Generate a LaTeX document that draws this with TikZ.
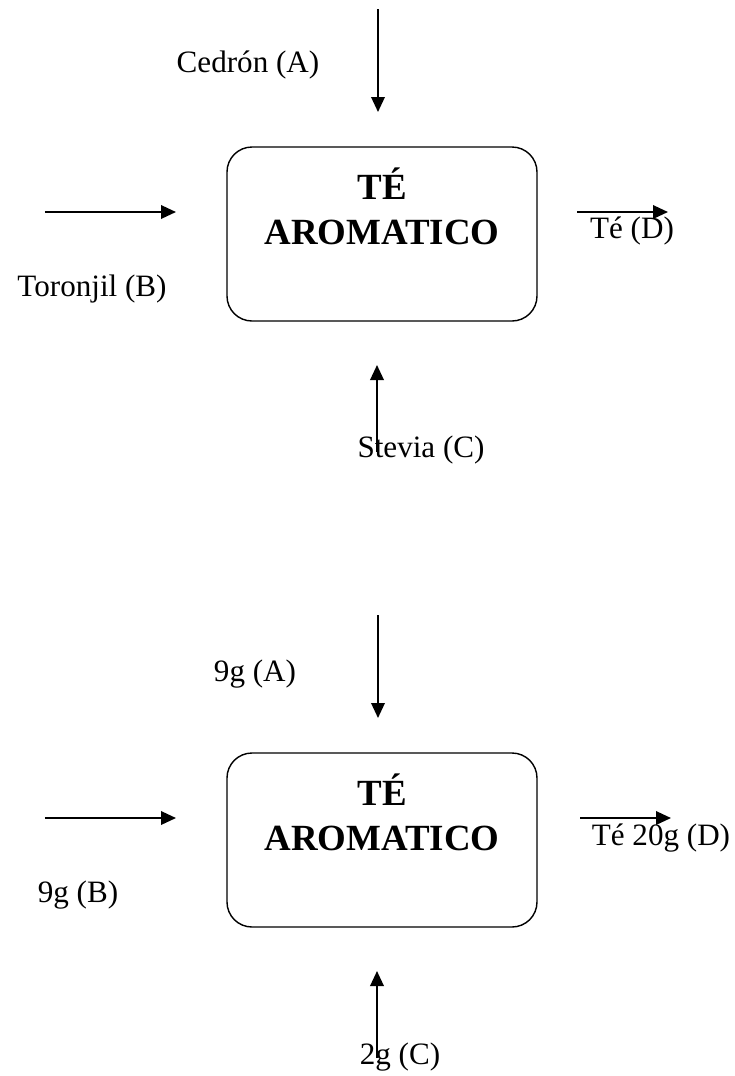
\documentclass[tikz,border=0pt]{standalone}
\usepackage{fontspec}
\setmainfont{Liberation Serif}
\usetikzlibrary{arrows.meta}

\begin{document}
\begin{tikzpicture}[
    flow/.style={-{Triangle[length=0.3cm,width=0.27cm]}, line width=1.1pt},
    proc/.style={draw, line width=0.8pt, rounded corners=0.5cm,
        minimum width=6.2cm, minimum height=3.48cm},
    title/.style={align=center, font=\fontsize{21}{25.6}\selectfont\bfseries},
    lbl/.style={font=\fontsize{17.7}{21}\selectfont, inner sep=0pt}
]
    \useasboundingbox (0,0) rectangle (14.68,-21.52);

    % Upper block: the ingredients by name
    \node[proc] (proc1) at (7.64,-4.68) {};
    \node[title] (name1) at (7.64,-4.12) {TÉ\\AROMATICO};

    \coordinate (a1s) at (7.56,-0.18);  \coordinate (a1e) at (7.56,-2.24);
    \coordinate (b1s) at (0.9,-4.24);   \coordinate (b1e) at (3.52,-4.24);
    \coordinate (d1s) at (11.54,-4.24); \coordinate (d1e) at (13.36,-4.24);
    \coordinate (c1s) at (7.54,-9.04);  \coordinate (c1e) at (7.54,-7.3);

    \draw[flow] (a1s) -- (a1e);
    \draw[flow] (b1s) -- (b1e);
    \draw[flow] (d1s) -- (d1e);
    \draw[flow] (c1s) -- (c1e);

    \node[lbl] (la1) at (4.96,-1.3) {Cedrón (A)};
    \node[lbl] (lb1) at (1.84,-5.78) {Toronjil (B)};
    \node[lbl] (ld1) at (12.64,-4.62) {Té (D)};
    \node[lbl] (lc1) at (8.42,-9.0) {Stevia (C)};

    % Lower block: the same flow with the amounts
    \node[proc] (proc2) at (7.64,-16.8) {};
    \node[title] (name2) at (7.64,-16.24) {TÉ\\AROMATICO};

    \coordinate (a2s) at (7.56,-12.3);   \coordinate (a2e) at (7.56,-14.36);
    \coordinate (b2s) at (0.9,-16.36);   \coordinate (b2e) at (3.52,-16.36);
    \coordinate (d2s) at (11.6,-16.36);  \coordinate (d2e) at (13.42,-16.36);
    \coordinate (c2s) at (7.54,-21.16);  \coordinate (c2e) at (7.54,-19.42);

    \draw[flow] (a2s) -- (a2e);
    \draw[flow] (b2s) -- (b2e);
    \draw[flow] (d2s) -- (d2e);
    \draw[flow] (c2s) -- (c2e);

    \node[lbl] (la2) at (5.1,-13.48) {9g (A)};
    \node[lbl] (lb2) at (1.56,-17.9) {9g (B)};
    \node[lbl] (ld2) at (13.22,-16.76) {Té 20g (D)};
    \node[lbl] (lc2) at (8.0,-21.14) {2g (C)};
\end{tikzpicture}
\end{document}
